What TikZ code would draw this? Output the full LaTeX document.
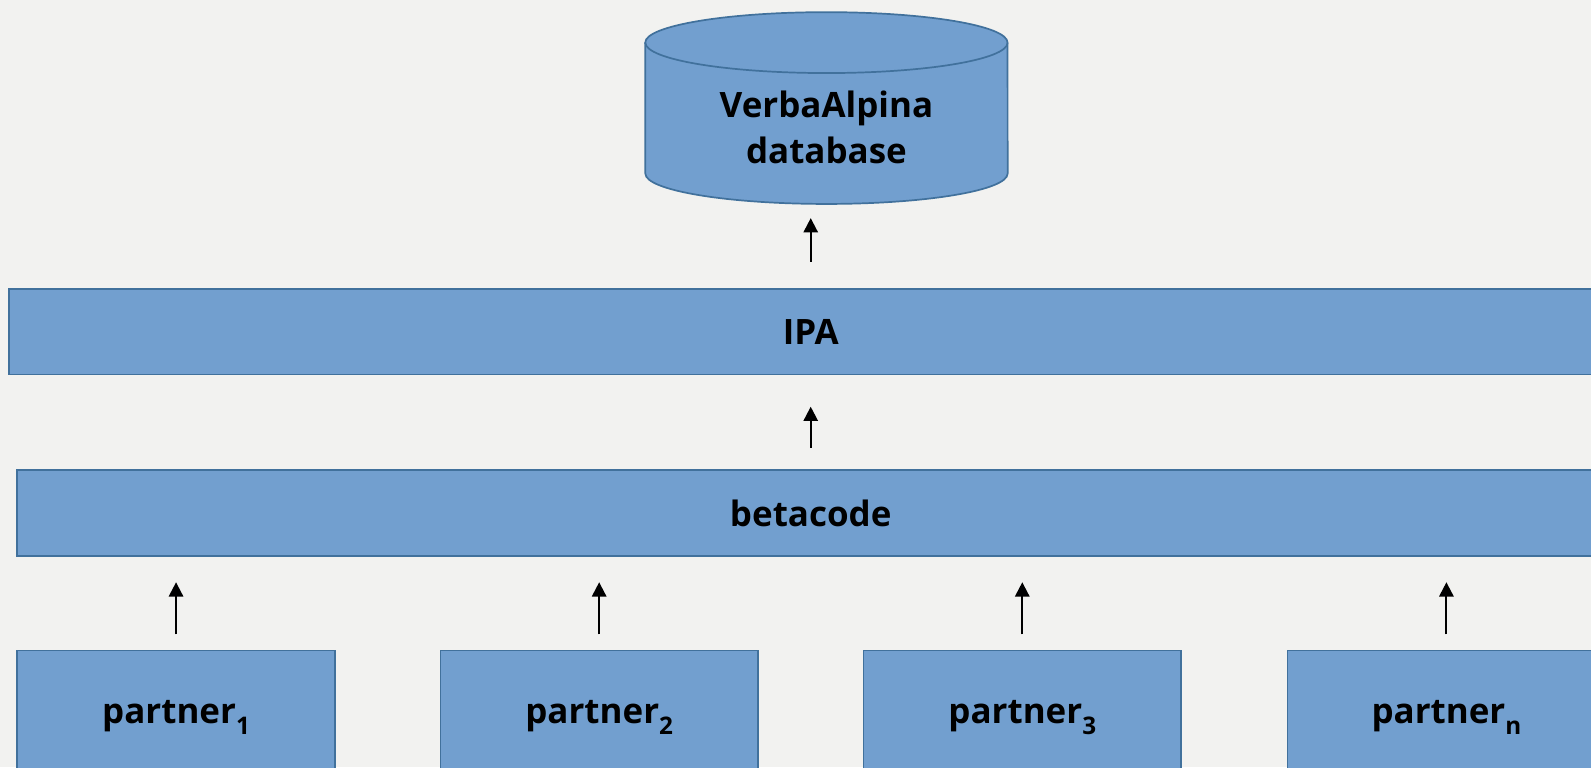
\documentclass[tikz,border=0pt]{standalone}
\usepackage{fontspec}
\setmainfont{Open Sans}
\usepackage{tikz}
\usetikzlibrary{arrows.meta, calc}
\definecolor{boxfill}{RGB}{114,159,207}
\definecolor{boxedge}{RGB}{65,113,156}
\definecolor{paper}{RGB}{242,242,240}
\newcommand{\psub}[1]{\raisebox{-0.32em}{\fontsize{17}{17}\selectfont #1}}

\begin{document}
\begin{tikzpicture}[x=0.025cm, y=0.025cm,
  box/.style={draw=boxedge, fill=boxfill, line width=1.2pt, inner sep=0pt,
    font=\fontsize{24.5}{32}\selectfont\bfseries},
  lbl/.style={align=center, font=\fontsize{24.5}{32}\selectfont\bfseries},
  arr/.style={-{Triangle[width=10pt,length=10pt]}, line width=1.4pt}]
\useasboundingbox (0,11) rectangle (1568,767);
\fill[paper] (0,11) rectangle (1568,767);
\clip (0,11) rectangle (1568,767);
% database
\path[draw=boxedge, fill=boxfill, line width=1.2pt] (636,725) -- (636,596)
  arc[start angle=180, end angle=360, x radius=4.4625cm, y radius=0.75cm]
  -- (993,725)
  arc[start angle=0, end angle=180, x radius=4.4625cm, y radius=0.75cm] -- cycle;
\draw[boxedge, line width=1.2pt] (636,725)
  arc[start angle=180, end angle=360, x radius=4.4625cm, y radius=0.75cm];
\node[lbl] (db) at (814.5,641.5) {VerbaAlpina\\database};
\coordinate (dbbot) at (814.5,566);
% layers
\node[box, minimum width=1580*0.025cm, minimum height=84*0.025cm] (ipa) at (799,440) {IPA};
\node[box, minimum width=1564*0.025cm, minimum height=85*0.025cm] (beta) at (799,261.5) {betacode};
% partners
\node[box, minimum width=313*0.025cm, minimum height=132*0.025cm] (p1) at (173.5,60) {partner\psub{1}};
\node[box, minimum width=313*0.025cm, minimum height=132*0.025cm] (p2) at (590.5,60) {partner\psub{2}};
\node[box, minimum width=313*0.025cm, minimum height=132*0.025cm] (p3) at (1007.5,60) {partner\psub{3}};
\node[box, minimum width=313*0.025cm, minimum height=132*0.025cm] (pn) at (1425.5,60) {partner\psub{n}};
% arrows
\draw[arr] ($(ipa.north)+(0,26)$) -- ($(dbbot -| ipa)+(0,-14)$);
\draw[arr] ($(beta.north)+(0,21)$) -- ($(ipa.south)+(0,-31)$);
\foreach \p in {p1,p2,p3,pn}
  \draw[arr] ($(\p.north)+(0,15)$) -- ($(\p.north |- beta.south)+(0,-25)$);
\end{tikzpicture}
\end{document}
